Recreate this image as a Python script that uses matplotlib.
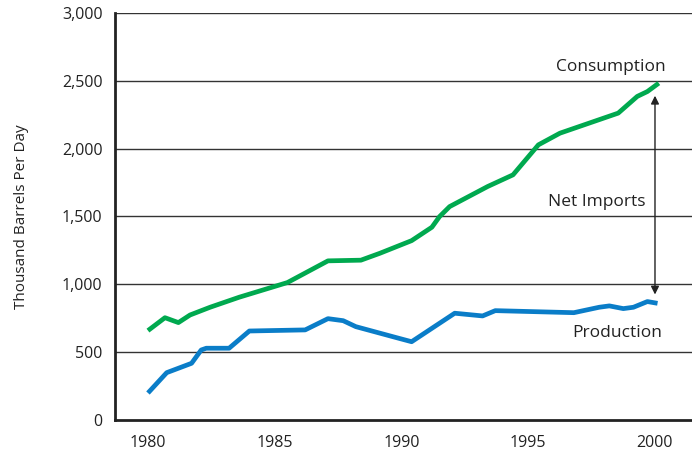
import matplotlib
matplotlib.use('Agg')
import matplotlib.pyplot as plt

# consumption (thousand barrels per day)
cons_years = [1980, 1980.67, 1981.2, 1981.66, 1982.45, 1983.6, 1985.5, 1987.1, 1988.4,
              1989.15, 1990.4, 1991.2, 1991.5, 1991.9, 1993.4, 1994.4, 1995.4, 1996.25,
              1998.55, 1999.3, 1999.7, 2000.15]
cons_vals = [659, 754, 718, 774, 831, 905, 1013, 1173, 1178,
             1229, 1322, 1421, 1499, 1573, 1721, 1807, 2028, 2114,
             2262, 2385, 2421, 2483]

# production
prod_years = [1980, 1980.74, 1981.72, 1982.1, 1982.3, 1983.2, 1984.0, 1986.2, 1987.1,
              1987.7, 1988.2, 1989.9, 1990.4, 1992.1, 1993.2, 1993.7, 1996.8, 1997.8,
              1998.2, 1998.75, 1999.15, 1999.7, 2000.1]
prod_vals = [199, 349, 418, 516, 529, 529, 656, 664, 747,
             732, 688, 602, 577, 787, 767, 806, 791, 831,
             841, 821, 831, 873, 860]

xticks = [1980, 1985, 1990, 1995, 2000]
yticks = [0, 500, 1000, 1500, 2000, 2500, 3000]

plt.rcParams['font.family'] = ['Open Sans', 'DejaVu Sans']

fig = plt.figure(figsize=(6.92, 4.54), dpi=100)
ax = fig.add_axes([0.1662, 0.0749, 0.8338, 0.8965])

for y in yticks[1:]:
    ax.axhline(y, color='#333333', lw=1.0, zorder=1)

ax.plot(cons_years, cons_vals, color='#00a94f', lw=3.4, solid_capstyle='butt', zorder=3)
ax.plot(prod_years, prod_vals, color='#0a7dc8', lw=3.4, solid_capstyle='butt', zorder=3)

ax.annotate('', xy=(2000, 2390), xytext=(2000, 925),
            arrowprops=dict(arrowstyle='<|-|>', color='#222222', lw=1.0,
                            mutation_scale=12, shrinkA=0, shrinkB=0))

ax.text(2000.4, 2600, 'Consumption', ha='right', va='center', fontsize=12.5, color='#222222')
ax.text(1997.7, 1610, 'Net Imports', ha='center', va='center', fontsize=12.5, color='#222222')
ax.text(2000.3, 641, 'Production', ha='right', va='center', fontsize=12.5, color='#222222')

ax.set_xlim(1978.7, 2001.46)
ax.set_ylim(0, 3000)
ax.set_xticks(xticks)
ax.set_yticks(yticks)
ax.set_yticklabels([f'{v:,}' for v in yticks])
ax.tick_params(length=0, labelsize=11.5, colors='#222222', pad=9)
ax.tick_params(axis='x', pad=11)
ax.set_ylabel('Thousand Barrels Per Day', fontsize=11, color='#222222', labelpad=24)

for s in ['top', 'right']:
    ax.spines[s].set_visible(False)
for s in ['left', 'bottom']:
    ax.spines[s].set_linewidth(2)
    ax.spines[s].set_color('#222222')

fig.savefig('out.png', dpi=100)
